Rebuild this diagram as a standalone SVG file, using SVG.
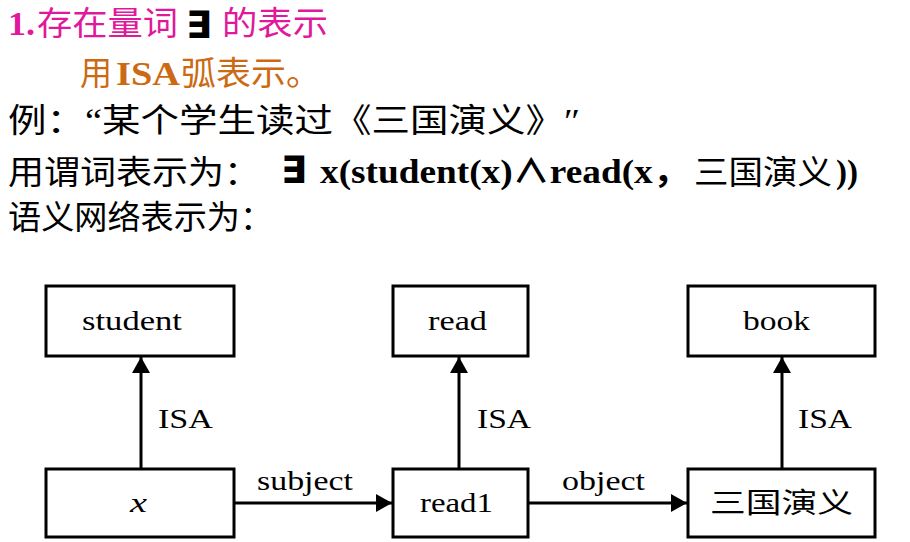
<svg xmlns="http://www.w3.org/2000/svg" width="910" height="542" viewBox="0 0 910 542">
<defs>
<style>
.t{font-family:'Liberation Serif','Noto Sans CJK SC',serif;font-size:33px;fill:#000}
.b{font-weight:bold}
.ex{font-family:'DejaVu Sans','Liberation Sans',sans-serif;font-weight:bold;font-size:38px;fill:#000}
.pink{fill:#E0189C}
.orange{fill:#CC6A14}
.n{font-family:'Liberation Serif','Noto Sans CJK SC',serif;font-size:28px;fill:#000}
.box{fill:#fff;stroke:#000;stroke-width:3}
.edge{stroke:#000;stroke-width:3;fill:none}
</style>
<marker id="arr" markerUnits="userSpaceOnUse" markerWidth="16" markerHeight="18" refX="16" refY="9" orient="auto">
<path d="M0,0 L16,9 L0,18 Z" fill="#000"/>
</marker>
</defs>
<rect width="910" height="542" fill="#fff"/>
<g id="header">
<text class="t b pink" x="8" y="35" textLength="27" lengthAdjust="spacingAndGlyphs">1.</text>
<text class="t pink" x="37" y="35" textLength="141" lengthAdjust="spacingAndGlyphs">存在量词</text>
<text class="ex" x="186" y="38">∃</text>
<text class="t pink" x="222" y="35" textLength="106" lengthAdjust="spacingAndGlyphs">的表示</text>
<text class="t orange" x="80" y="85" textLength="32" lengthAdjust="spacingAndGlyphs">用</text>
<text class="t b orange" x="116" y="85" textLength="64" lengthAdjust="spacingAndGlyphs">ISA</text>
<text class="t orange" x="181" y="85" textLength="140" lengthAdjust="spacingAndGlyphs">弧表示。</text>
<text class="t" x="8" y="132" textLength="572" lengthAdjust="spacingAndGlyphs">例：“某个学生读过《三国演义》″</text>
<text class="t" x="8" y="184" textLength="252" lengthAdjust="spacingAndGlyphs">用谓词表示为：</text>
<text class="ex" x="281" y="183">∃</text>
<text class="t b" x="320" y="183" textLength="370" lengthAdjust="spacingAndGlyphs">x(student(x)∧read(x，</text>
<text class="t" x="694" y="184" textLength="138" lengthAdjust="spacingAndGlyphs">三国演义</text>
<text class="t b" x="836" y="183" textLength="22" lengthAdjust="spacingAndGlyphs">))</text>
<text class="t" x="8" y="229" textLength="265" lengthAdjust="spacingAndGlyphs">语义网络表示为：</text>
</g>
<g id="connectors">
<line class="edge" x1="141" y1="469" x2="141" y2="357" marker-end="url(#arr)"/>
<line class="edge" x1="459" y1="469" x2="459" y2="357" marker-end="url(#arr)"/>
<line class="edge" x1="782" y1="469" x2="782" y2="357" marker-end="url(#arr)"/>
<line class="edge" x1="234" y1="503" x2="392" y2="503" marker-end="url(#arr)"/>
<line class="edge" x1="528" y1="503" x2="687" y2="503" marker-end="url(#arr)"/>
<text class="n" x="158" y="428" textLength="55" lengthAdjust="spacingAndGlyphs">ISA</text>
<text class="n" x="477" y="428" textLength="54" lengthAdjust="spacingAndGlyphs">ISA</text>
<text class="n" x="798" y="428" textLength="54" lengthAdjust="spacingAndGlyphs">ISA</text>
<text class="n" x="257" y="490" textLength="96" lengthAdjust="spacingAndGlyphs">subject</text>
<text class="n" x="562" y="490" textLength="83" lengthAdjust="spacingAndGlyphs">object</text>
</g>
<g id="node-student">
<rect class="box" x="46" y="286" width="188" height="70"/>
<text class="n" x="82" y="330" textLength="100" lengthAdjust="spacingAndGlyphs">student</text>
</g>
<g id="node-read">
<rect class="box" x="393" y="286" width="135" height="70"/>
<text class="n" x="428" y="330" textLength="59" lengthAdjust="spacingAndGlyphs">read</text>
</g>
<g id="node-book">
<rect class="box" x="688" y="286" width="187" height="70"/>
<text class="n" x="743" y="330" textLength="67" lengthAdjust="spacingAndGlyphs">book</text>
</g>
<g id="node-x">
<rect class="box" x="46" y="469" width="188" height="68"/>
<text class="n" x="130" y="512" font-style="italic" textLength="17" lengthAdjust="spacingAndGlyphs">x</text>
</g>
<g id="node-read1">
<rect class="box" x="393" y="469" width="135" height="68"/>
<text class="n" x="420" y="512" textLength="73" lengthAdjust="spacingAndGlyphs">read1</text>
</g>
<g id="node-sanguo">
<rect class="box" x="688" y="469" width="187" height="68"/>
<text class="n" x="710" y="513" font-size="30" textLength="143" lengthAdjust="spacingAndGlyphs">三国演义</text>
</g>
</svg>
